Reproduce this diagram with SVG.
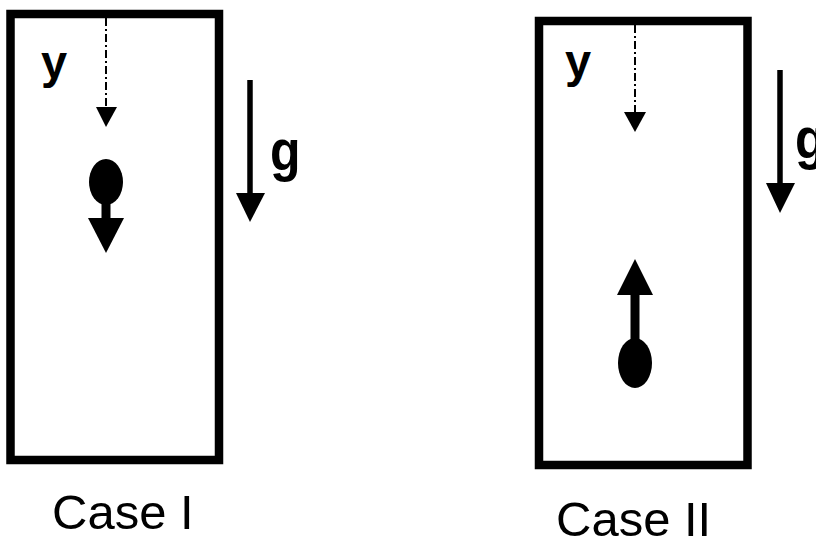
<svg xmlns="http://www.w3.org/2000/svg" width="816" height="538" viewBox="0 0 816 538">
<style>
.box{fill:none;stroke:#000;stroke-width:8.5}
.dash{stroke:#000;stroke-width:2;stroke-dasharray:8 3 2 3;fill:none}
.bold{font-family:"Liberation Sans",Arial,sans-serif;font-weight:bold;fill:#000}
.cap{font-family:"Liberation Sans",Arial,sans-serif;font-size:49px;fill:#000}
</style>
<rect width="816" height="538" fill="#fff"/>
<g id="case1">
<rect class="box" x="10.5" y="14" width="208.5" height="446"/>
<text class="bold" x="41" y="78" font-size="47">y</text>
<ellipse cx="106" cy="182" rx="17" ry="23"/>
<rect x="101.5" y="200" width="9" height="20"/>
<polygon points="88,218 124,218 106,253"/>
<text class="cap" x="52" y="529">Case I</text>
</g>
<g id="case2">
<rect class="box" x="539" y="21" width="208.5" height="444"/>
<text class="bold" x="565" y="77" font-size="47">y</text>
<ellipse cx="635" cy="363" rx="17" ry="25"/>
<rect x="630.5" y="293" width="9" height="50"/>
<polygon points="617,295 653,295 635,259"/>
<text class="cap" x="556" y="536">Case II</text>
</g>
<g id="gravity1">
<line x1="250" y1="80" x2="250" y2="196" stroke="#000" stroke-width="5.5"/>
<polygon points="236,193 265,193 250,222"/>
<text class="bold" font-size="50" transform="translate(270,170) scale(1,1.16)">g</text>
</g>
<g id="gravity2">
<line x1="780" y1="70" x2="780" y2="186" stroke="#000" stroke-width="5.5"/>
<polygon points="766,183 795,183 780,213"/>
<text class="bold" font-size="50" transform="translate(795,158) scale(1,1.16)">g</text>
</g>
<g id="connectors">
<line class="dash" x1="106" y1="18" x2="106" y2="110"/>
<polygon points="96,107 117,107 106,127"/>
<line class="dash" x1="635" y1="25" x2="635" y2="115"/>
<polygon points="624,112 646,112 635,132"/>
</g>
</svg>
